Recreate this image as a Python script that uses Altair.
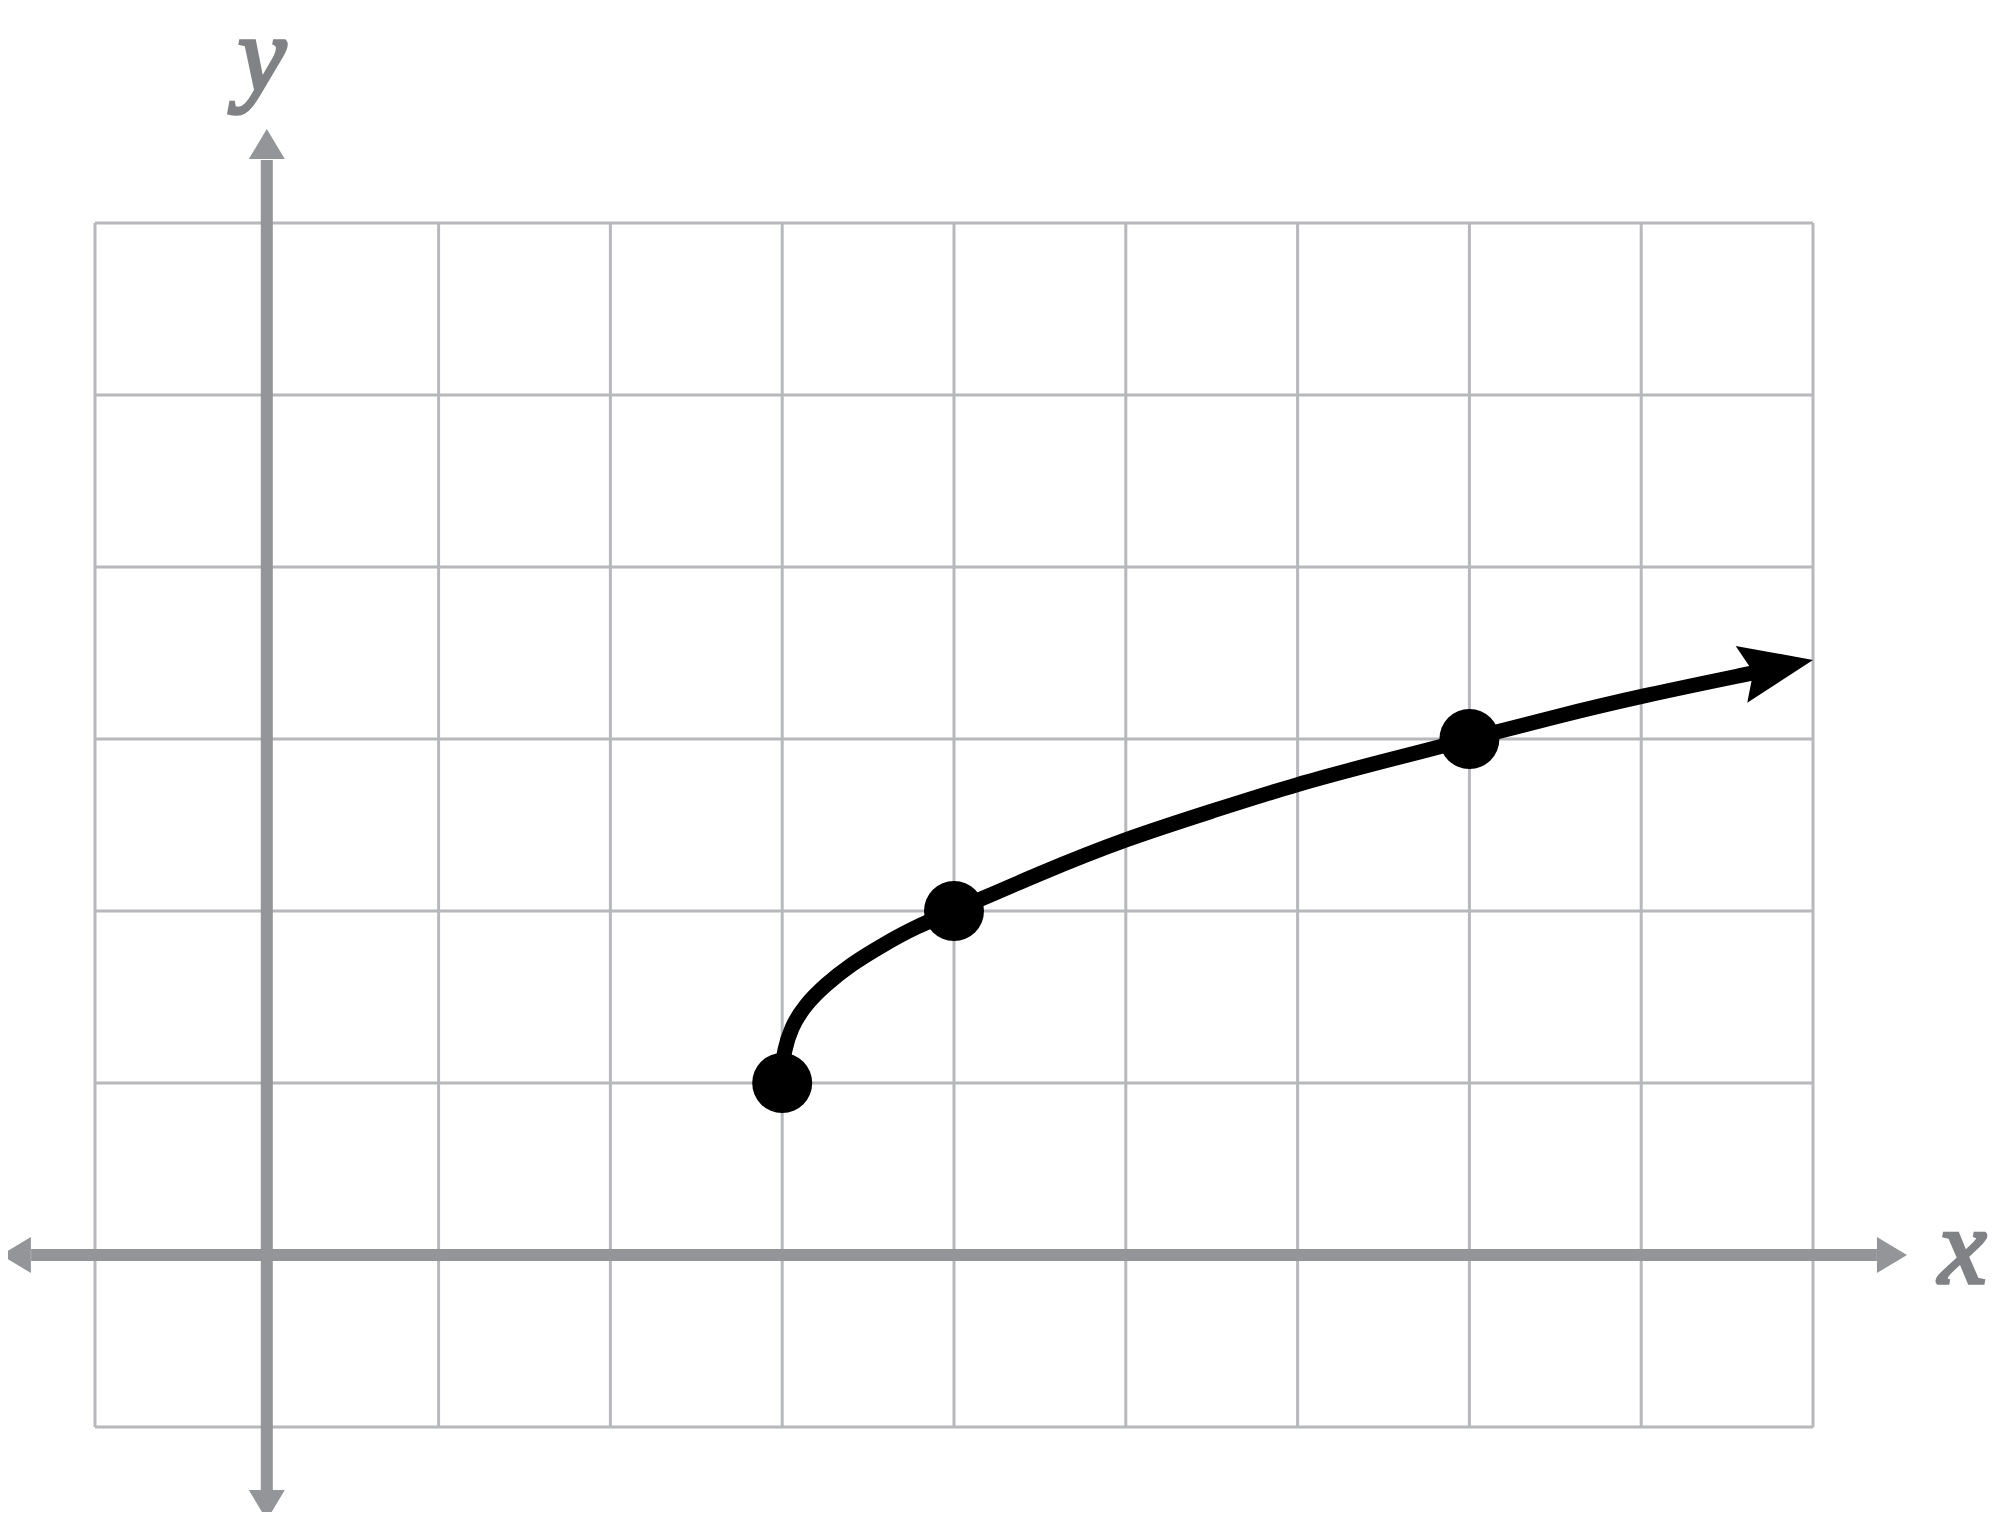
import altair as alt
import pandas as pd

# Grid extents (grid line values)
x_ticks = list(range(-1, 10))
y_ticks = list(range(-1, 7))

# Curve (ordered along the curve)
curve_x = [3.0, 3.0, 3.01, 3.05, 3.13, 3.25, 3.4, 3.58, 3.78, 4.0, 4.5, 5.0, 5.5, 6.0, 6.5, 7.0, 7.5, 8.0, 8.68]
curve_y = [1.0, 1.08, 1.18, 1.32, 1.45, 1.57, 1.69, 1.8, 1.91, 2.0, 2.22, 2.42, 2.58, 2.74, 2.87, 3.0, 3.13, 3.25, 3.39]

# Plotted points
dot_x = [3, 4, 7]
dot_y = [1, 2, 3]

# Arrow tip of the curve
tip_x = [9.0]
tip_y = [3.46]

AXIS_GRAY = "#939598"
GRID_GRAY = "#b7b8bb"
LABEL_GRAY = "#808285"

xs = alt.Scale(domain=[-1, 9], nice=False, zero=False)
ys = alt.Scale(domain=[-1, 6], nice=False, zero=False)

def X(f="x"):
    return alt.X(f"{f}:Q", scale=xs, axis=None)

def Y(f="y"):
    return alt.Y(f"{f}:Q", scale=ys, axis=None)

# Grid lines
vgrid_df = pd.DataFrame({"x": x_ticks, "y": [y_ticks[0]] * len(x_ticks), "y2": [y_ticks[-1]] * len(x_ticks)})
vgrid = alt.Chart(vgrid_df).mark_rule(color=GRID_GRAY, strokeWidth=3).encode(
    x=X(), y=Y(), y2="y2:Q")
hgrid_df = pd.DataFrame({"y": y_ticks, "x": [x_ticks[0]] * len(y_ticks), "x2": [x_ticks[-1]] * len(y_ticks)})
hgrid = alt.Chart(hgrid_df).mark_rule(color=GRID_GRAY, strokeWidth=3).encode(
    y=Y(), x=X(), x2="x2:Q")

# Coordinate axes (decorative)
haxis = alt.Chart(pd.DataFrame({"x": [-1.372], "x2": [9.372], "y": [0]})).mark_rule(
    color=AXIS_GRAY, strokeWidth=12, strokeCap="butt").encode(x=X(), x2="x2:Q", y=Y())
vaxis = alt.Chart(pd.DataFrame({"y": [-1.366], "y2": [6.366], "x": [0]})).mark_rule(
    color=AXIS_GRAY, strokeWidth=12, strokeCap="butt").encode(y=Y(), y2="y2:Q", x=X())

head = "M0,0 L1.667,-1 L1.667,1 Z"  # pointing left, tip at origin
def axis_arrow(x, y, angle):
    return alt.Chart(pd.DataFrame({"x": [x], "y": [y]})).mark_point(
        shape=head, size=1296, filled=True, opacity=1, color=AXIS_GRAY, strokeWidth=0,
        angle=angle).encode(x=X(), y=Y())

arrows = [
    axis_arrow(-1.548, 0, 0),
    axis_arrow(9.547, 0, 180),
    axis_arrow(0, 6.546, 90),
    axis_arrow(0, -1.541, 270),
]

curve_df = pd.DataFrame({"x": curve_x, "y": curve_y, "i": list(range(len(curve_x)))})
curve = alt.Chart(curve_df).mark_line(color="black", strokeWidth=15, interpolate="basis",
                                      strokeCap="butt").encode(
    x=X(), y=Y(), order="i:Q")

tip = alt.Chart(pd.DataFrame({"x": tip_x, "y": tip_y})).mark_point(
    shape="M0,0 L-2,-0.795 L-1.67,0 L-2,0.795 Z", size=5329, filled=True, opacity=1,
    color="black", strokeWidth=0, angle=348.5).encode(x=X(), y=Y())

dots = alt.Chart(pd.DataFrame({"x": dot_x, "y": dot_y})).mark_circle(
    size=3600, color="black", opacity=1).encode(x=X(), y=Y())

label_df = pd.DataFrame({"x": [9.87, -0.028], "y": [-0.163, 6.767], "t": ["x", "y"]})
labels = alt.Chart(label_df).mark_text(
    font="Liberation Serif", fontStyle="italic", fontSize=108,
    color=LABEL_GRAY, stroke=LABEL_GRAY, strokeWidth=3.5, align="center",
    baseline="alphabetic").encode(
    x=X(), y=Y(), text="t:N")

chart = alt.layer(vgrid, hgrid, haxis, vaxis, *arrows, curve, tip, dots, labels).properties(
    width=1718, height=1204,
    padding={"left": 87, "top": 215, "right": 178, "bottom": 85},
    autosize=alt.AutoSizeParams(type="none"),
).configure_view(stroke=None).configure(background="white")

chart.save("out.html", embed_options={"renderer": "svg", "actions": False})
